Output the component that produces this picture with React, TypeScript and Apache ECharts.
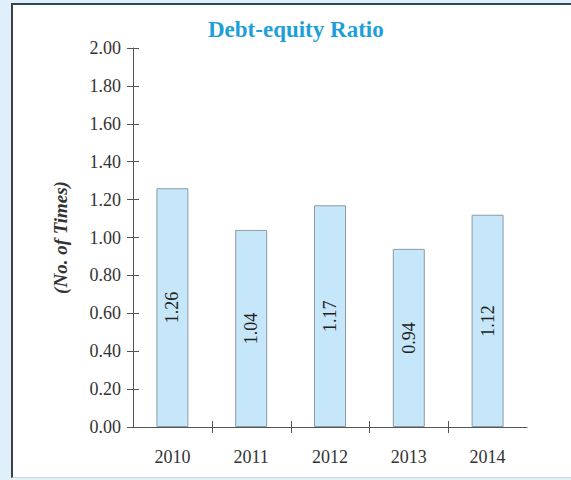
import React, { useEffect, useRef } from "react";
import * as echarts from "echarts";

const years = ["2010", "2011", "2012", "2013", "2014"];
const ratios = [1.26, 1.04, 1.17, 0.94, 1.12];
const boundaryIdx = [0, 1, 2, 3];
const titleText = "Debt-equity Ratio";
const yName = "(No. of Times)";

const SERIF = "'Liberation Serif', 'Times New Roman', serif";

export default function App() {
  const ref = useRef<HTMLDivElement>(null);

  useEffect(() => {
    document.body.style.margin = "0";
    const chart = echarts.init(ref.current!, null, { renderer: "svg" });
    const yCommon = {
      type: "value",
      min: 0,
      max: 2,
      interval: 0.2,
      splitLine: { show: false },
    };
    chart.setOption({
      animation: false,
      title: {
        text: titleText,
        left: 203,
        top: 13,
        textStyle: {
          fontFamily: SERIF,
          fontWeight: "bold",
          fontSize: 23,
          color: "#1e9fd9",
        },
      },
      grid: { left: 133, top: 48, right: 44, bottom: 53, containLabel: false },
      xAxis: {
        type: "category",
        data: years,
        boundaryGap: true,
        axisLine: { show: true, lineStyle: { color: "#555", width: 1 } },
        axisTick: { show: false },
        axisLabel: {
          margin: 21,
          fontFamily: SERIF,
          fontSize: 18,
          color: "#333",
        },
      },
      yAxis: [
        {
          ...yCommon,
          name: yName,
          nameLocation: "middle",
          nameGap: 63,
          nameRotate: 90,
          nameTextStyle: {
            fontFamily: SERIF,
            fontStyle: "italic",
            fontWeight: "bold",
            fontSize: 19,
            color: "#333",
          },
          axisLine: { show: true, lineStyle: { color: "#555", width: 1 } },
          axisTick: { show: true, inside: false, length: 6, lineStyle: { color: "#555" } },
          axisLabel: {
            margin: 12,
            fontFamily: SERIF,
            fontSize: 18,
            color: "#333",
            formatter: (v: number) => v.toFixed(2),
          },
        },
        {
          ...yCommon,
          position: "left",
          axisLine: { show: false },
          axisTick: { show: true, inside: true, length: 6, lineStyle: { color: "#555" } },
          axisLabel: { show: false },
        },
      ],
      series: [
        {
          type: "bar",
          data: ratios,
          barWidth: 32,
          itemStyle: { color: "#c6e6f9", borderColor: "#8d9ba5", borderWidth: 1 },
          label: {
            show: true,
            position: "inside",
            rotate: 90,
            fontFamily: SERIF,
            fontSize: 18,
            color: "#222",
            formatter: (p: any) => Number(p.value).toFixed(2),
          },
        },
        {
          type: "custom",
          data: boundaryIdx.map((i) => [i, 0]),
          encode: { x: 0, y: 1 },
          silent: true,
          z: 5,
          renderItem: (params: any, api: any) => {
            const p = api.coord([api.value(0), 0]);
            const w = api.size([1, 0])[0];
            const x = Math.round(p[0] + w / 2) + 0.5;
            return {
              type: "line",
              shape: { x1: x, y1: p[1] - 6, x2: x, y2: p[1] + 6 },
              style: { stroke: "#555", lineWidth: 1 },
            };
          },
        },
      ],
    });
    return () => chart.dispose();
  }, []);

  return (
    <div
      style={{
        position: "absolute",
        left: 0,
        top: 0,
        width: 571,
        height: 480,
        background: "#dff0fb",
        overflow: "hidden",
      }}
    >
      <div
        style={{
          position: "absolute",
          left: 11,
          top: 3,
          width: 570,
          height: 475,
          background: "#ffffff",
          borderTop: "2px solid #34475a",
          borderLeft: "2px solid #3d4146",
          borderBottom: "1px solid #d3d6d8",
          boxSizing: "border-box",
        }}
      />
      <div
        ref={ref}
        style={{ position: "absolute", left: 0, top: 0, width: 571, height: 480 }}
      />
    </div>
  );
}
